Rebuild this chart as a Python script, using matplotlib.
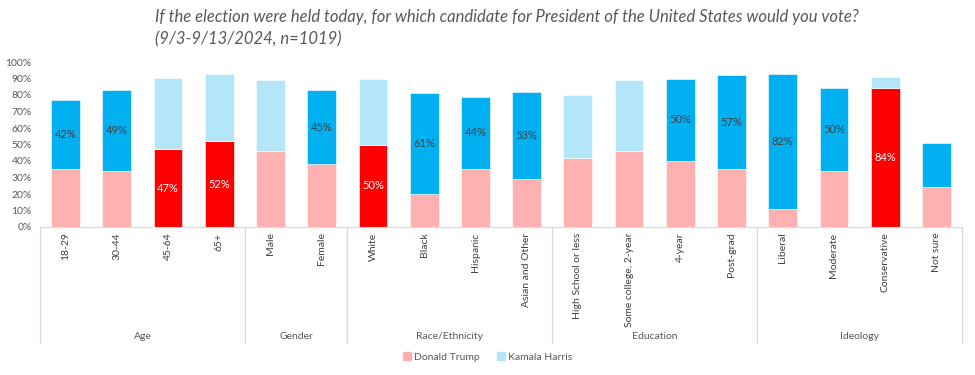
import matplotlib
matplotlib.use('Agg')
import matplotlib.pyplot as plt
from matplotlib.patches import Patch
import numpy as np

plt.rcParams['font.family'] = ['Lato', 'DejaVu Sans']

# data
categories = ['18-29', '30-44', '45-64', '65+', 'Male', 'Female', 'White', 'Black',
              'Hispanic', 'Asian and Other', 'High School or less', 'Some college, 2-year',
              '4-year', 'Post-grad', 'Liberal', 'Moderate', 'Conservative', 'Not sure']
groups = ['Age', 'Gender', 'Race/Ethnicity', 'Education', 'Ideology']
group_sizes = [4, 2, 4, 4, 4]
trump = [35, 34, 47, 52, 46, 38, 50, 20, 35, 29, 42, 46, 40, 35, 11, 34, 84, 24]
harris = [42, 49, 43, 41, 43, 45, 40, 61, 44, 53, 38, 43, 50, 57, 82, 50, 7, 27]
# which candidate leads (gets the saturated colour) in each bar
leader = ['H', 'H', 'T', 'T', '', 'H', 'T', 'H', 'H', 'H', '', '', 'H', 'H', 'H', 'H', 'T', 'H']
show_label = [True] * 17 + [False]

pale_red, red = '#FFB1B1', '#FF0000'
pale_blue, blue = '#B3E6F8', '#00B0F0'
grey = '#595959'

fig = plt.figure(figsize=(9.75, 3.75), dpi=100)
ax = fig.add_axes([40 / 975, 148 / 375, 922 / 975, 165 / 375])

x = np.arange(len(categories))
t_cols = [red if l == 'T' else pale_red for l in leader]
h_cols = [blue if l == 'H' else pale_blue for l in leader]
ax.bar(x, trump, width=0.56, color=t_cols, edgecolor='white', linewidth=0.4)
ax.bar(x, harris, width=0.56, bottom=trump, color=h_cols, edgecolor='white', linewidth=0.4)

for i in range(len(categories)):
    if not show_label[i]:
        continue
    if leader[i] == 'T':
        ax.text(x[i], trump[i] / 2, f'{trump[i]}%', ha='center', va='center',
                color='white', fontsize=8)
    elif leader[i] == 'H':
        ax.text(x[i], trump[i] + harris[i] / 2, f'{harris[i]}%', ha='center', va='center',
                color='#404040', fontsize=8)

ax.set_xlim(-0.5, len(categories) - 0.5)
ax.set_ylim(0, 100)
ax.set_yticks(range(0, 101, 10))
ax.set_yticklabels([f'{v}%' for v in range(0, 101, 10)], color=grey, fontsize=7.5)
ax.set_xticks(x)
ax.set_xticklabels(categories, rotation=90, va='top', ha='center', color='#404040', fontsize=7.5)
ax.tick_params(length=0, pad=4)
ax.tick_params(axis='y', pad=6)
for s in ['top', 'right', 'left']:
    ax.spines[s].set_visible(False)
ax.spines['bottom'].set_color('#D9D9D9')

# group separators and group names
edges = np.concatenate([[0], np.cumsum(group_sizes)]) - 0.5
for e in edges:
    ax.plot([e, e], [0, -0.70], transform=ax.get_xaxis_transform(), color='#D9D9D9',
            linewidth=0.9, clip_on=False)
for g, a, b in zip(groups, edges[:-1], edges[1:]):
    ax.text((a + b) / 2, -0.665, g, transform=ax.get_xaxis_transform(), ha='center',
            va='center', color=grey, fontsize=7.5)

handles = [Patch(color=pale_red, label='Donald Trump'), Patch(color=pale_blue, label='Kamala Harris')]
ax.legend(handles=handles, loc='center', bbox_to_anchor=(0.5, 18 / 375),
          bbox_transform=fig.transFigure, ncol=2, frameon=False, fontsize=7.5,
          handlelength=0.8, handleheight=0.8, handletextpad=0.3, columnspacing=1.6,
          labelcolor=grey)

fig.text(155 / 975, 1 - 9 / 375,
         'If the election were held today, for which candidate for President of the United States would you vote?\n(9/3-9/13/2024, n=1019)',
         ha='left', va='top', fontsize=12, style='italic', color=grey, linespacing=1.45)

fig.savefig('out.png', dpi=100)
